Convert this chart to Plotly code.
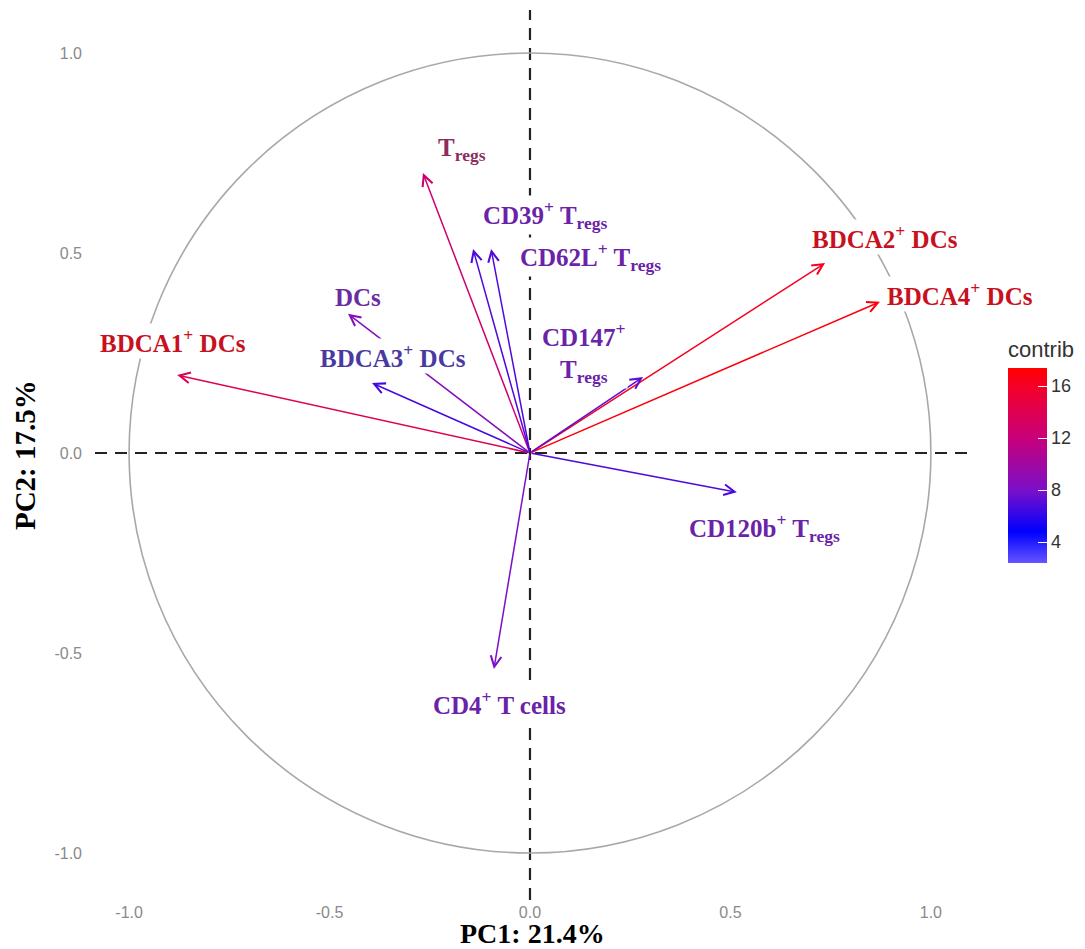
import plotly.graph_objects as go
from plotly.colors import sample_colorscale

# ---- data ----
variables = ["BDCA1+ DCs", "BDCA3+ DCs", "DCs", "Tregs", "CD39+ Tregs", "CD62L+ Tregs",
             "BDCA2+ DCs", "BDCA4+ DCs", "CD147+ Tregs", "CD120b+ Tregs", "CD4+ T cells"]
pc1 = [-0.88, -0.394, -0.454, -0.267, -0.142, -0.097, 0.736, 0.873, 0.282, 0.516, -0.09]
pc2 = [0.195, 0.175, 0.348, 0.70, 0.51, 0.51, 0.475, 0.378, 0.19, -0.098, -0.54]
contrib = [14.0, 6.6, 8.5, 12.5, 6.9, 6.9, 16.3, 17.0, 7.3, 6.8, 8.2]
cmin, cmax = 2.4, 17.4
x_title = "PC1: 21.4%"
y_title = "PC2: 17.5%"
tick_vals = [-1, -0.5, 0, 0.5, 1]
tick_text = ["-1.0", "-0.5", "0.0", "0.5", "1.0"]

# ---- styles ----
colorscale = [[0.0, "#6655ff"], [0.16, "#0000ff"], [0.373, "#7a10c8"],
              [0.64, "#c8007a"], [0.907, "#f50028"], [1.0, "#ff0000"]]
labels_html = {
    "BDCA1+ DCs": "BDCA1<sup>+</sup> DCs",
    "BDCA3+ DCs": "BDCA3<sup>+</sup> DCs",
    "DCs": "DCs",
    "Tregs": "T<sub>regs</sub>",
    "CD39+ Tregs": "CD39<sup>+</sup> T<sub>regs</sub>",
    "CD62L+ Tregs": "CD62L<sup>+</sup> T<sub>regs</sub>",
    "BDCA2+ DCs": "BDCA2<sup>+</sup> DCs",
    "BDCA4+ DCs": "BDCA4<sup>+</sup> DCs",
    "CD147+ Tregs": "CD147<sup>+</sup><br>T<sub>regs</sub>",
    "CD120b+ Tregs": "CD120b<sup>+</sup> T<sub>regs</sub>",
    "CD4+ T cells": "CD4<sup>+</sup> T cells",
}
label_offset = {  # label centre relative to arrow tip (data units)
    "BDCA1+ DCs": (-0.01, 0.085),
    "BDCA3+ DCs": (0.052, 0.068),
    "DCs": (0.025, 0.04),
    "Tregs": (0.097, 0.06),
    "CD39+ Tregs": (0.18, 0.085),
    "CD62L+ Tregs": (0.247, -0.02),
    "BDCA2+ DCs": (0.149, 0.065),
    "BDCA4+ DCs": (0.199, 0.02),
    "CD147+ Tregs": (-0.147, 0.06),
    "CD120b+ Tregs": (0.07, -0.09),
    "CD4+ T cells": (0.015, -0.085),
}
label_color = {
    "BDCA1+ DCs": "#c8101e", "BDCA2+ DCs": "#c8101e", "BDCA4+ DCs": "#c8101e",
    "Tregs": "#8b2c5c", "BDCA3+ DCs": "#4a3aa0", "DCs": "#6a2ca0",
}
default_label_color = "#6a22a8"
serif = "Liberation Serif"
sans = "Liberation Sans"

fig = go.Figure()

# colorbar carrier
fig.add_trace(go.Scatter(
    x=pc1, y=pc2, mode="markers",
    marker=dict(size=0.1, opacity=0, color=contrib, colorscale=colorscale,
                cmin=cmin, cmax=cmax, showscale=True,
                colorbar=dict(title=dict(text="contrib", side="top",
                                         font=dict(family=sans, size=22, color="#333")),
                              thickness=39, len=225, lenmode="pixels",
                              x=1.0375, xanchor="left", xpad=0,
                              y=0.3787, yanchor="bottom", ypad=0,
                              outlinewidth=0, tickvals=[4, 8, 12, 16],
                              ticks="inside", ticklen=9, tickcolor="white", tickwidth=1,
                              tickfont=dict(family=sans, size=18, color="#333"))),
    hoverinfo="skip", showlegend=False))

# unit circle and reference lines
fig.add_shape(type="circle", x0=-1, y0=-1, x1=1, y1=1, xref="x", yref="y",
              line=dict(color="#a8a8a8", width=1.6), layer="below")
fig.add_shape(type="line", x0=0, x1=1, y0=0, y1=0, xref="paper", yref="y",
              line=dict(color="#222", width=2.2, dash="12px,8px"), layer="below")
fig.add_shape(type="line", x0=0, x1=0, y0=0, y1=1, xref="x", yref="paper",
              line=dict(color="#222", width=2.2, dash="12px,8px"), layer="below")

ann = []
cols = sample_colorscale(colorscale, [(c - cmin) / (cmax - cmin) for c in contrib])
for v, x, y, col in zip(variables, pc1, pc2, cols):
    ann.append(dict(x=x, y=y, ax=0, ay=0, xref="x", yref="y", axref="x", ayref="y",
                    text="", showarrow=True, arrowhead=5, arrowsize=1.4, arrowwidth=1.5,
                    arrowcolor=col, standoff=0, startstandoff=0))
for v, x, y in zip(variables, pc1, pc2):
    dx, dy = label_offset[v]
    ann.append(dict(x=x + dx, y=y + dy, xref="x", yref="y", text="<b>" + labels_html[v] + "</b>",
                    showarrow=False, bgcolor="white", borderpad=1,
                    font=dict(family=serif, size=25, color=label_color.get(v, default_label_color))))
# axis titles
ann.append(dict(x=0.4977, y=-0.0371, xref="paper", yref="paper", text="<b>" + x_title + "</b>",
                showarrow=False, xanchor="center", yanchor="middle", borderpad=0,
                font=dict(family=serif, size=28, color="black")))
ann.append(dict(x=-0.0795, y=-0.005, xref="paper", yref="y", text="<b>" + y_title + "</b>",
                showarrow=False, textangle=-90, xanchor="center", yanchor="middle",
                font=dict(family=serif, size=29, color="black")))
fig.update_layout(annotations=ann)

# the page body adds an 8px offset, so the figure is sized to 1077x941
fig.update_layout(
    width=1077, height=941,
    margin=dict(l=87, r=110, t=2, b=49, autoexpand=False),
    paper_bgcolor="white", plot_bgcolor="white",
    xaxis=dict(range=[-1.085, 1.110], tickvals=tick_vals, ticktext=tick_text,
               showgrid=False, zeroline=False, showline=False, ticks="", automargin=False,
               ticklabelstandoff=1,
               tickfont=dict(family=sans, size=16, color="#8a8a8a")),
    yaxis=dict(range=[-1.1175, 1.1075], tickvals=tick_vals, ticktext=tick_text,
               showgrid=False, zeroline=False, showline=False, ticks="", automargin=False,
               ticklabelstandoff=12,
               tickfont=dict(family=sans, size=16, color="#8a8a8a")),
)

fig.write_html("out.html")
